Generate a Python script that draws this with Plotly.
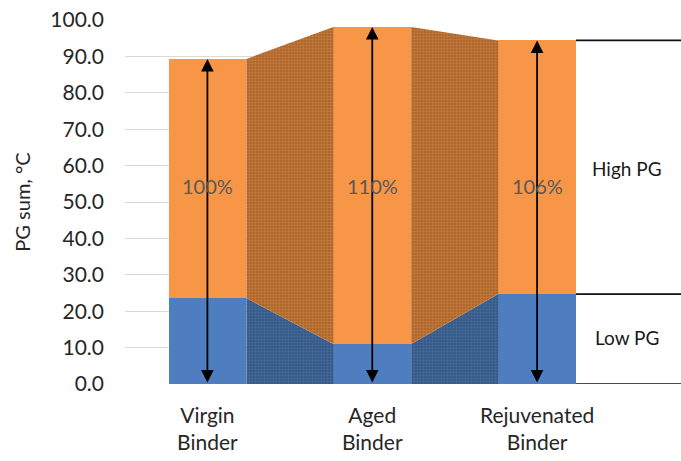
import plotly.graph_objects as go

categories = ["Virgin<br>Binder", "Aged<br>Binder", "Rejuvenated<br>Binder"]
low_pg = [23.6, 11.0, 24.7]
total_pg = [89.3, 98.1, 94.4]
pct_labels = ["100%", "110%", "106%"]
side_labels = ["High PG", "Low PG"]
y_ticks = [0, 10, 20, 30, 40, 50, 60, 70, 80, 90, 100]

high_pg = [t - l for t, l in zip(total_pg, low_pg)]
xs = list(range(len(categories)))
W = 0.472
BLUE = "#4F7EC0"
ORANGE = "#F79646"
FONT = "Lato, Open Sans, sans-serif"

fig = go.Figure()
fig.add_trace(go.Bar(x=xs, y=low_pg, width=W, marker=dict(color=BLUE, line=dict(width=0)),
                     name="Low PG", hoverinfo="skip"))
fig.add_trace(go.Bar(x=xs, y=high_pg, width=W, marker=dict(color=ORANGE, line=dict(width=0)),
                     name="High PG", hoverinfo="skip"))

for i in range(len(xs) - 1):
    xa = xs[i] + W / 2
    xb = xs[i + 1] - W / 2
    fig.add_trace(go.Scatter(
        x=[xa, xb, xb, xa, xa], y=[0, 0, low_pg[i + 1], low_pg[i], 0],
        mode="lines", line=dict(width=0), fill="toself", fillcolor="#3A5E8C",
        fillpattern=dict(shape=".", bgcolor="#35567F", fgcolor="#4D7CBA", size=3, solidity=0.5),
        hoverinfo="skip", showlegend=False))
    fig.add_trace(go.Scatter(
        x=[xa, xb, xb, xa, xa], y=[low_pg[i], low_pg[i + 1], total_pg[i + 1], total_pg[i], low_pg[i]],
        mode="lines", line=dict(width=0), fill="toself", fillcolor="#B06A30",
        fillpattern=dict(shape=".", bgcolor="#A5622A", fgcolor="#E8914A", size=3, solidity=0.5),
        hoverinfo="skip", showlegend=False))

annotations = []
for i in xs:
    annotations.append(dict(x=i, y=total_pg[i], ax=i, ay=0, xref="x", yref="y", axref="x", ayref="y",
                            text="", showarrow=True, arrowside="end+start", arrowhead=2,
                            startarrowhead=2, arrowsize=1.4, startarrowsize=1.4, arrowwidth=1.8,
                            arrowcolor="black", standoff=0, startstandoff=0))
    annotations.append(dict(x=i, y=54.5, xref="x", yref="y", text=pct_labels[i], showarrow=False,
                            font=dict(family=FONT, size=20, color="#595959")))

annotations.append(dict(x=1.113, xref="paper", xanchor="center", y=59.3, yref="y", text=side_labels[0],
                        showarrow=False, font=dict(family=FONT, size=19, color="#1a1a1a")))
annotations.append(dict(x=1.113, xref="paper", xanchor="center", y=12.9, yref="y", text=side_labels[1],
                        showarrow=False, font=dict(family=FONT, size=19, color="#1a1a1a")))

shapes = []
for yv in [total_pg[-1], low_pg[-1], 0]:
    shapes.append(dict(type="line", xref="paper", yref="y", x0=1.0, x1=1.24, y0=yv, y1=yv,
                       line=dict(color="#111111", width=1.6)))

fig.update_layout(
    width=681, height=461, barmode="stack", showlegend=False,
    margin=dict(l=125, r=105, t=20, b=77, autoexpand=False),
    plot_bgcolor="white", paper_bgcolor="white",
    font=dict(family=FONT, size=20, color="#262626"),
    annotations=annotations, shapes=shapes,
)
fig.update_xaxes(range=[-0.5, 2.236], tickvals=xs, ticktext=categories, showgrid=False,
                 zeroline=False, showline=False, ticks="", automargin=False, ticklabelstandoff=17,
                 tickfont=dict(size=21, color="#262626"))
fig.update_yaxes(range=[0, 100], tickvals=y_ticks, ticktext=[f"{v:.1f}" for v in y_ticks],
                 showgrid=True, gridcolor="#D9D9D9", gridwidth=1, zeroline=False, showline=False,
                 ticks="", automargin=False, ticklabelstandoff=20, ticklabeloverflow="allow",
                 tickfont=dict(size=21, color="#262626"),
                 title=dict(text="PG sum, °C", font=dict(size=20, color="#262626"), standoff=14))

fig.write_html("out.html", config={"displayModeBar": False},
               post_script="document.body.style.margin='0';")
